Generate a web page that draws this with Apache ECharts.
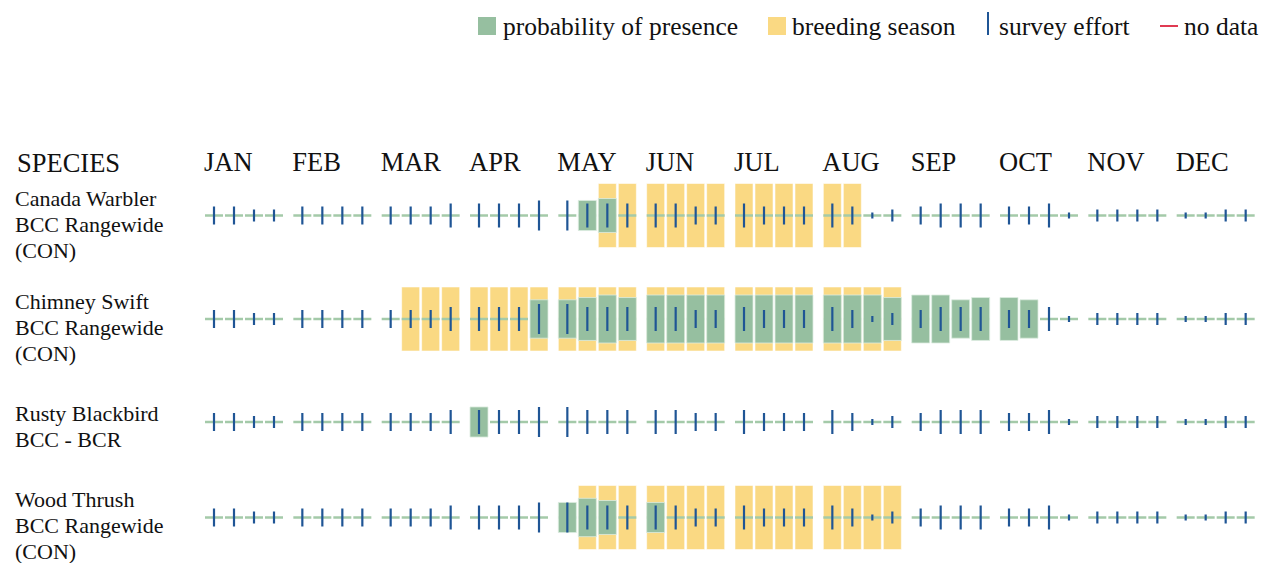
<!DOCTYPE html>
<html>
<head>
<meta charset="utf-8">
<script src="https://cdn.jsdelivr.net/npm/echarts@6/dist/echarts.min.js"></script>
<style>
html,body{margin:0;padding:0;background:#fff;}
#chart{width:1270px;height:563px;}
</style>
</head>
<body>
<div id="chart"></div>
<script>
// ---------------- DATA ----------------
const months = ['JAN','FEB','MAR','APR','MAY','JUN','JUL','AUG','SEP','OCT','NOV','DEC'];
const speciesNames = [
  ['Canada Warbler', 'BCC Rangewide', '(CON)'],
  ['Chimney Swift', 'BCC Rangewide', '(CON)'],
  ['Rusty Blackbird', 'BCC - BCR'],
  ['Wood Thrush', 'BCC Rangewide', '(CON)']
];
const legendLabels = ['probability of presence', 'breeding season', 'survey effort', 'no data'];

// 48 weeks (12 months x 4 weeks). breeding: 1 = breeding season
// probability: fraction of full bar height; effort: survey effort level
const canadaBreeding = [0,0,0,0, 0,0,0,0, 0,0,0,0, 0,0,0,0, 0,0,1,1, 1,1,1,1, 1,1,1,1, 1,1,0,0, 0,0,0,0, 0,0,0,0, 0,0,0,0, 0,0,0,0];
const canadaProb     = [0,0,0,0, 0,0,0,0, 0,0,0,0, 0,0,0,0, 0,0.47,0.53,0, 0,0,0,0, 0,0,0,0, 0,0,0,0, 0,0,0,0, 0,0,0,0, 0,0,0,0, 0,0,0,0];
const canadaEffort   = [3,3,2,2, 3,3,3,3, 3,3,3,4, 4,4,4,5, 5,4,4,4, 4,4,3,3, 4,3,3,3, 4,3,1,2, 3,4,4,4, 3,3,4,1, 2,2,2,2, 1,1,2,2];

const swiftBreeding  = [0,0,0,0, 0,0,0,0, 0,1,1,1, 1,1,1,1, 1,1,1,1, 1,1,1,1, 1,1,1,1, 1,1,1,1, 0,0,0,0, 0,0,0,0, 0,0,0,0, 0,0,0,0];
const swiftProb      = [0,0,0,0, 0,0,0,0, 0,0,0,0, 0,0,0,0.6, 0.6,0.67,0.75,0.67, 0.75,0.75,0.75,0.75, 0.75,0.75,0.75,0.75, 0.75,0.75,0.75,0.67, 0.75,0.75,0.6,0.67, 0.67,0.6,0,0, 0,0,0,0, 0,0,0,0];
const swiftEffort    = [3,3,2,2, 3,3,3,3, 3,3,3,4, 4,4,4,5, 5,4,4,4, 4,4,3,3, 4,3,3,3, 4,3,1,2, 3,4,4,4, 3,3,4,1, 2,2,2,2, 1,1,2,2];

const rustyBreeding  = [0,0,0,0, 0,0,0,0, 0,0,0,0, 0,0,0,0, 0,0,0,0, 0,0,0,0, 0,0,0,0, 0,0,0,0, 0,0,0,0, 0,0,0,0, 0,0,0,0, 0,0,0,0];
const rustyProb      = [0,0,0,0, 0,0,0,0, 0,0,0,0, 0.47,0,0,0, 0,0,0,0, 0,0,0,0, 0,0,0,0, 0,0,0,0, 0,0,0,0, 0,0,0,0, 0,0,0,0, 0,0,0,0];
const rustyEffort    = [3,3,2,2, 3,3,3,3, 3,3,3,4, 4,4,4,5, 5,4,4,4, 4,4,3,3, 4,3,3,3, 4,3,1,2, 3,4,4,4, 3,3,4,1, 2,2,2,2, 1,1,2,2];

const thrushBreeding = [0,0,0,0, 0,0,0,0, 0,0,0,0, 0,0,0,0, 0,1,1,1, 1,1,1,1, 1,1,1,1, 1,1,1,1, 0,0,0,0, 0,0,0,0, 0,0,0,0, 0,0,0,0];
const thrushProb     = [0,0,0,0, 0,0,0,0, 0,0,0,0, 0,0,0,0, 0.47,0.6,0.53,0, 0.47,0,0,0, 0,0,0,0, 0,0,0,0, 0,0,0,0, 0,0,0,0, 0,0,0,0, 0,0,0,0];
const thrushEffort   = [3,3,2,2, 3,3,3,3, 3,3,3,4, 4,4,4,5, 5,4,4,4, 4,4,3,3, 4,3,3,3, 4,3,1,2, 3,4,4,4, 3,3,4,1, 2,2,2,2, 1,1,2,2];

const speciesData = [
  {breeding: canadaBreeding, prob: canadaProb, effort: canadaEffort},
  {breeding: swiftBreeding,  prob: swiftProb,  effort: swiftEffort},
  {breeding: rustyBreeding,  prob: rustyProb,  effort: rustyEffort},
  {breeding: thrushBreeding, prob: thrushProb, effort: thrushEffort}
];

// ---------------- LAYOUT / STYLE ----------------
const FONT = '"Liberation Serif", "DejaVu Serif", serif';
const GREEN = '#96bfa0';
const YELLOW = '#fad983';
const BLUE = '#1f5595';
const BASE = '#a4caa9';
const RED = '#e03a52';
const GAP = 0.4167;                 // gap between months, in week units
const MONTH_SPAN = 4 + GAP;
const X_MAX = 12 * MONTH_SPAN - GAP;
const WEEK_PX = 20;
const GRID_LEFT = 204;
const COL_HALF = 0.45;
const EFFORT_SCALE = 6 / 64;        // y-units per effort level
const ROW_TOPS = [183.5, 287, 390, 485.5];
const ROW_H = 64;
const LABEL_TOPS = [185, 288, 400, 486];

const monthStarts = months.map((m, i) => i * MONTH_SPAN);

function weekCenter(i) {
  return Math.floor(i / 4) * MONTH_SPAN + (i % 4) + 0.5;
}

function renderItem(params, api) {
  const xc = api.value(0), br = api.value(1), p = api.value(2), e = api.value(3);
  const children = [];
  if (br) {
    const a = api.coord([xc - COL_HALF, 1]);
    const b = api.coord([xc + COL_HALF, -1]);
    children.push({type: 'rect', shape: {x: a[0], y: a[1], width: b[0] - a[0], height: b[1] - a[1]},
      style: {fill: YELLOW, stroke: 'rgba(255,255,255,0.55)', lineWidth: 1}});
  }
  const l = api.coord([xc - COL_HALF, 0]);
  const r = api.coord([xc + COL_HALF, 0]);
  children.push({type: 'line', shape: {x1: l[0], y1: l[1], x2: r[0], y2: r[1]},
    style: {stroke: BASE, lineWidth: 2.5}});
  if (p > 0) {
    const a = api.coord([xc - COL_HALF, p]);
    const b = api.coord([xc + COL_HALF, -p]);
    children.push({type: 'rect', shape: {x: a[0], y: a[1], width: b[0] - a[0], height: b[1] - a[1]},
      style: {fill: GREEN, stroke: 'rgba(220,236,224,0.8)', lineWidth: 1}});
  }
  if (e > 0) {
    const t = api.coord([xc, e * EFFORT_SCALE]);
    const bt = api.coord([xc, -e * EFFORT_SCALE]);
    children.push({type: 'line', shape: {x1: t[0], y1: t[1], x2: bt[0], y2: bt[1]},
      style: {stroke: BLUE, lineWidth: 2.2}});
  }
  return {type: 'group', children};
}

const grids = [], xAxes = [], yAxes = [], series = [];
speciesData.forEach((sp, k) => {
  grids.push({left: GRID_LEFT, top: ROW_TOPS[k], width: X_MAX * WEEK_PX, height: ROW_H});
  xAxes.push({
    type: 'value', gridIndex: k, min: 0, max: X_MAX,
    position: 'top',
    show: k === 0,
    splitLine: {show: false}, axisLine: {show: false}, axisTick: {show: false},
    axisLabel: {
      show: k === 0,
      customValues: monthStarts,
      formatter: v => months[Math.round(v / MONTH_SPAN)],
      align: 'left', verticalAlign: 'middle', margin: 21.5,
      fontFamily: FONT, fontSize: 26.5, color: '#111'
    }
  });
  yAxes.push({type: 'value', gridIndex: k, min: -1, max: 1, show: false});
  const data = sp.breeding.map((b, i) => [weekCenter(i), b, sp.prob[i], sp.effort[i]]);
  series.push({
    type: 'custom', xAxisIndex: k, yAxisIndex: k, clip: false,
    renderItem, data, silent: true
  });
});

const graphic = [
  {type: 'text', left: 17, top: 149, style: {text: 'SPECIES', font: '26.5px ' + FONT, fill: '#111'}},
  // legend
  {type: 'rect', shape: {x: 478, y: 17, width: 18, height: 18}, style: {fill: GREEN}},
  {type: 'text', x: 503, y: 26, style: {text: legendLabels[0], font: '25.5px ' + FONT, fill: '#111', textVerticalAlign: 'middle'}},
  {type: 'rect', shape: {x: 768, y: 17, width: 18, height: 18}, style: {fill: YELLOW}},
  {type: 'text', x: 792, y: 26, style: {text: legendLabels[1], font: '25.5px ' + FONT, fill: '#111', textVerticalAlign: 'middle'}},
  {type: 'line', shape: {x1: 988, y1: 12, x2: 988, y2: 35}, style: {stroke: BLUE, lineWidth: 2}},
  {type: 'text', x: 999, y: 26, style: {text: legendLabels[2], font: '25.5px ' + FONT, fill: '#111', textVerticalAlign: 'middle'}},
  {type: 'line', shape: {x1: 1160, y1: 26, x2: 1178, y2: 26}, style: {stroke: RED, lineWidth: 2}},
  {type: 'text', x: 1184, y: 26, style: {text: legendLabels[3], font: '25.5px ' + FONT, fill: '#111', textVerticalAlign: 'middle'}}
];
speciesNames.forEach((lines, k) => {
  graphic.push({type: 'text', left: 15, top: LABEL_TOPS[k],
    style: {text: lines.join('\n'), font: '22px ' + FONT, lineHeight: 26, fill: '#111'}});
});

const chart = echarts.init(document.getElementById('chart'), null, {renderer: 'svg'});
chart.setOption({
  animation: false,
  backgroundColor: '#fff',
  grid: grids, xAxis: xAxes, yAxis: yAxes, series, graphic
});
</script>
</body>
</html>
